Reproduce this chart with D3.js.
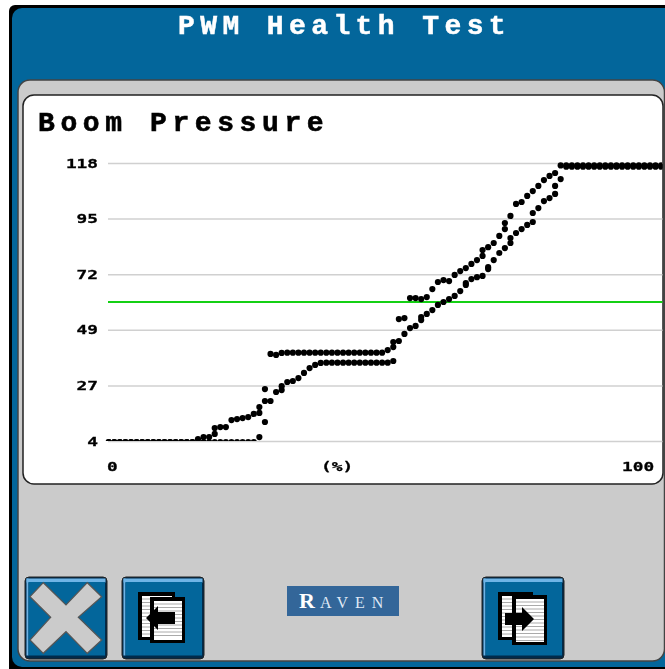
<!DOCTYPE html>
<html>
<head>
<meta charset="utf-8">
<style>
html, body { margin: 0; padding: 0; background: #fff; }
svg { display: block; filter: blur(0.3px); }
text { font-weight: bold; }
</style>
<script src="https://cdn.jsdelivr.net/npm/d3@7"></script>
</head>
<body>
<script>
// y ticks: the display truncates the evenly spaced tick values for its labels
var yTicks = [4, 26.8, 49.6, 72.4, 95.2, 118];
var yLabels = ["4", "27", "49", "72", "95", "118"];
var xLabels = ["0", "(%)", "100"];
var threshold = 61;

// pressure per percent step (index = percent)
var upper = [
  3.6, 3.6, 3.6, 3.6, 3.6, 3.6, 3.6, 3.6, 3.6, 3.6,
  3.6, 3.6, 3.6, 3.6, 3.6, 3.6, 3.6, 3.6, 3.6, 3.6,
  3.6, 3.6, 3.6, 3.6, 3.6, 3.6, 3.6, 5.6, 11.8, 39.7,
  39.3, 40.1, 40.2, 40.2, 40.2, 40.2, 40.2, 40.2, 40.2, 40.2,
  40.2, 40.2, 40.2, 40.2, 40.2, 40.2, 40.2, 40.2, 40.2, 40.2,
  41.3, 44.6, 54, 54.4, 62.6, 62.6, 62.2, 63, 66.3, 69.2,
  70, 69.6, 72.1, 73.7, 74.9, 76.6, 78.2, 79.9, 83.5, 85.2,
  88.1, 90.9, 96.3, 101.2, 102, 104.5, 106.5, 108.6, 111, 112.7,
  113.9, 117, 117, 117, 117, 117, 117, 117, 117, 117,
  117, 117, 117, 117, 117, 117, 117, 117, 117, 117
];
var lower = [
  3.6, 3.6, 3.6, 3.6, 3.6, 3.6, 3.6, 3.6, 3.6, 3.6,
  3.6, 3.6, 3.6, 3.6, 3.6, 3.6, 4.8, 5.6, 5.6, 6.9,
  9.7, 9.7, 12.6, 13, 13.4, 13.8, 15.1, 15.5, 20.4, 20.4,
  24.1, 24.9, 28.2, 28.6, 29.8, 31.9, 33.9, 35.2, 36, 36.1,
  36.1, 36.1, 36.1, 36.1, 36.1, 36.1, 36.1, 36.1, 36.1, 36.1,
  36.1, 36.8, 45, 47.9, 50.3, 51.2, 53.6, 56.1, 57.7, 59.8,
  61, 62.2, 63.5, 65.5, 68, 70.4, 71.2, 71.7, 74.5, 78.2,
  81.1, 83.1, 85.2, 89.3, 90.9, 92.6, 93.8, 99.5, 102.4, 103.6,
  105.3, 111.4, 116.5, 116.5, 116.5, 116.5, 116.5, 116.5, 116.5, 116.5,
  116.5, 116.5, 116.5, 116.5, 116.5, 116.5, 116.5, 116.5, 116.5, 116.5
];
// samples that sit off both branches, as percent / pressure
var strayPercent = [19, 27, 28, 31, 51, 56, 64, 67, 68, 71, 72, 76, 80];
var strayValue = [9.3, 17.9, 25.3, 26.5, 42.5, 54.8, 68.8, 82.3, 75.3, 93.4, 87.2, 97.5, 108.6];

var width = 665, height = 669;
var blue = "#03669b", grey = "#cbcbcb";
var mono = "'Liberation Mono', monospace";
var tickFont = "'DejaVu Sans Mono', monospace";

var svg = d3.select("body").append("svg")
    .attr("width", width)
    .attr("height", height);

// screen frame
svg.append("rect").attr("x", 9).attr("y", 5).attr("width", 670).attr("height", 670)
    .attr("rx", 6).attr("fill", "#000");
svg.append("rect").attr("x", 12).attr("y", 8).attr("width", 670).attr("height", 659)
    .attr("rx", 10).attr("fill", blue);
svg.append("rect").attr("x", 18).attr("y", 80).attr("width", 646.5).attr("height", 581)
    .attr("rx", 12).attr("fill", grey).attr("stroke", "#444").attr("stroke-width", 1.5);
svg.append("rect").attr("x", 23).attr("y", 95).attr("width", 640).attr("height", 389)
    .attr("rx", 11).attr("fill", "#fff").attr("stroke", "#222").attr("stroke-width", 1.5);

svg.append("text")
    .attr("x", 178).attr("y", 34)
    .attr("fill", "#fff")
    .attr("stroke", "#fff")
    .attr("stroke-width", 0.5)
    .attr("font-family", mono)
    .attr("font-size", 28)
    .attr("letter-spacing", 5.4)
    .text("PWM Health Test");

svg.append("text")
    .attr("x", 38).attr("y", 131)
    .attr("fill", "#000")
    .attr("stroke", "#000")
    .attr("stroke-width", 0.6)
    .attr("font-family", mono)
    .attr("font-size", 28)
    .attr("letter-spacing", 5.6)
    .text("Boom Pressure");

var x = d3.scaleLinear().domain([0, 100]).range([108.7, 666.7]);
var y = d3.scaleLinear().domain([4, 118]).range([441, 163]);

var yAxis = svg.append("g")
    .attr("transform", "translate(108,0)")
    .call(d3.axisLeft(y)
        .tickValues(yTicks)
        .tickFormat((d, i) => yLabels[i])
        .tickSize(-554.5)
        .tickPadding(10));
yAxis.select(".domain").remove();
yAxis.selectAll("line").attr("stroke", "#d0d0d0").attr("stroke-width", 1.5);
yAxis.selectAll("text")
    .attr("fill", "#000")
    .attr("stroke", "#000")
    .attr("stroke-width", 0.3)
    .attr("font-family", tickFont)
    .attr("font-size", 13)
    .attr("textLength", (d, i) => yLabels[i].length * 10.7)
    .attr("lengthAdjust", "spacingAndGlyphs");

svg.append("line")
    .attr("x1", 108).attr("x2", 662.5)
    .attr("y1", y(threshold)).attr("y2", y(threshold))
    .attr("stroke", "#14d014")
    .attr("stroke-width", 1.8);

svg.append("g").selectAll("text")
    .data(xLabels)
    .join("text")
    .attr("x", (d, i) => [107, 321, 622][i])
    .attr("y", 471)
    .attr("fill", "#000")
    .attr("stroke", "#000")
    .attr("stroke-width", 0.3)
    .attr("font-family", tickFont)
    .attr("font-size", 13)
    .attr("textLength", d => d.length * 10.7)
    .attr("lengthAdjust", "spacingAndGlyphs")
    .text(d => d);

// dots are cut off at the bottom gridline and the right edge of the card
svg.append("clipPath").attr("id", "plot-clip")
    .append("rect").attr("x", 100).attr("y", 150).attr("width", 562.5).attr("height", 291);

var samples = upper.map((v, i) => [i, v])
    .concat(lower.map((v, i) => [i, v]))
    .concat(strayPercent.map((p, i) => [p, strayValue[i]]));

svg.append("g")
    .attr("clip-path", "url(#plot-clip)")
    .selectAll("circle")
    .data(samples)
    .join("circle")
    .attr("cx", d => x(d[0]))
    .attr("cy", d => y(d[1]))
    .attr("r", 3.1)
    .attr("fill", "#000");

// buttons
function button(bx, by) {
    var g = svg.append("g").attr("transform", "translate(" + bx + "," + by + ")");
    g.append("rect").attr("x", 0).attr("y", 0).attr("width", 82).attr("height", 82)
        .attr("rx", 4).attr("fill", "#012a4a").attr("stroke", "#222");
    g.append("rect").attr("x", 1.5).attr("y", 1.5).attr("width", 79).attr("height", 4)
        .attr("fill", "#6fb4e6");
    g.append("rect").attr("x", 1.5).attr("y", 1.5).attr("width", 2).attr("height", 77)
        .attr("fill", "#6fb4e6");
    g.append("rect").attr("x", 3.5).attr("y", 5).attr("width", 76.5).attr("height", 73.5)
        .attr("fill", blue);
    return g;
}

function page(g, px, py, w, h) {
    g.append("rect").attr("x", px).attr("y", py).attr("width", w).attr("height", h).attr("fill", "#000");
    g.append("rect").attr("x", px + 4).attr("y", py + 4).attr("width", w - 7).attr("height", h - 7).attr("fill", "#fff");
    for (var ly = py + 7; ly < py + h - 4; ly += 3.5) {
        g.append("line").attr("x1", px + 4).attr("x2", px + w - 3)
            .attr("y1", ly).attr("y2", ly).attr("stroke", "#aaa");
    }
}

var closeBtn = button(25, 577);
closeBtn.append("path")
    .attr("d", "M18.3,5.7 L5,19.7 L25.7,40.3 L5,63 L18.3,76.3 L41,54.7 L62.3,76.3 L76.7,63 L53.3,40.3 L76.7,19.7 L62.3,5.7 L41,28 Z")
    .attr("fill", grey)
    .attr("stroke", "#555")
    .attr("stroke-width", 1.2);

var backBtn = button(122, 577);
page(backBtn, 16, 15, 37, 48);
page(backBtn, 28, 20, 35, 46);
backBtn.append("path").attr("d", "M24,41 L36,29 L36,35 L53,35 L53,47 L36,47 L36,53 Z").attr("fill", "#000");

var nextBtn = button(482, 577);
page(nextBtn, 16, 15, 35, 48);
page(nextBtn, 30, 18, 35, 50);
nextBtn.append("path").attr("d", "M23,36 L40,36 L40,30 L52,42 L40,54 L40,48 L23,48 Z").attr("fill", "#000");

// logo
svg.append("rect").attr("x", 287).attr("y", 586).attr("width", 112).attr("height", 30).attr("fill", "#336699");
svg.append("text")
    .attr("x", 299).attr("y", 608)
    .attr("fill", "#fff")
    .attr("font-family", "'Liberation Serif', serif")
    .attr("font-size", 22)
    .text("R");
svg.append("text")
    .attr("x", 320).attr("y", 608)
    .attr("fill", "#dfe8f5")
    .attr("font-family", "'Liberation Serif', serif")
    .attr("font-size", 16)
    .attr("letter-spacing", 7)
    .style("font-weight", "normal")
    .text("AVEN");
</script>
</body>
</html>
